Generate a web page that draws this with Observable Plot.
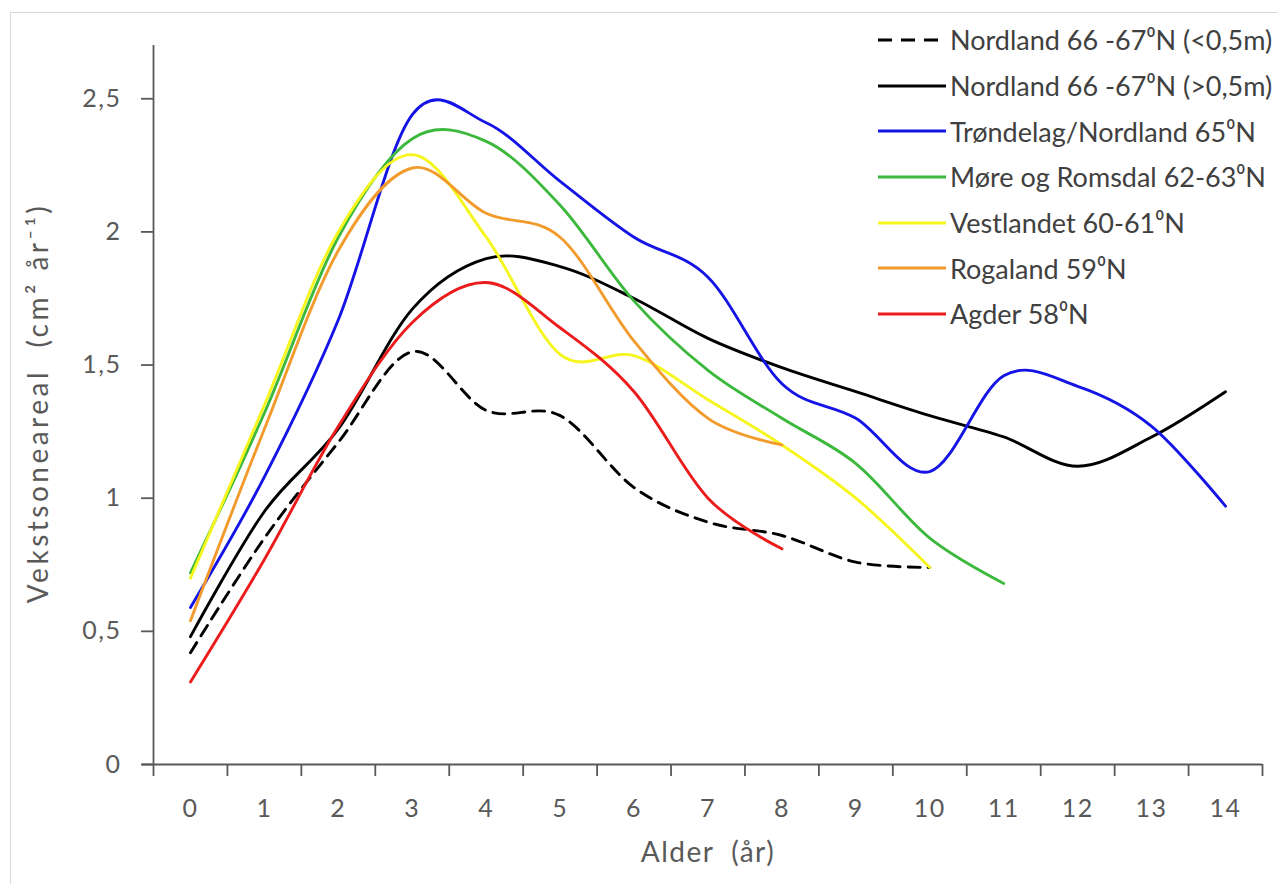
<!DOCTYPE html>
<html>
<head>
<meta charset="utf-8">
<script src="https://cdn.jsdelivr.net/npm/d3@7"></script>
<script src="https://cdn.jsdelivr.net/npm/@observablehq/plot@0.6"></script>
<style>
  html, body { margin: 0; padding: 0; background: #fff; }
  #wrap { position: relative; width: 1278px; height: 884px; overflow: hidden; font-family: Lato, "Open Sans", sans-serif; }
  #frame { position: absolute; left: 10px; top: 12px; width: 1300px; height: 900px; border: 1px solid #d9d9d9; box-sizing: border-box; }
  #chart { position: absolute; left: 0; top: 0; }
  #legend { position: absolute; left: 878px; top: 17px; }
  .row { display: flex; align-items: center; height: 45.7px; }
  .row svg { width: 68px; height: 10px; margin-right: 4px; flex: none; }
  .row span { font-size: 27px; color: #404040; white-space: nowrap; }
</style>
</head>
<body>
<div id="wrap">
  <div id="frame"></div>
  <div id="chart"></div>
  <div id="legend"></div>
</div>
<script>
// Age categories (x axis)
const ages = d3.range(0, 15);
const yTicks = [0, 0.5, 1, 1.5, 2, 2.5];

// Series values (Vekstsoneareal, cm² år⁻¹) per age
const nordlandLow  = [0.42, 0.85, 1.21, 1.55, 1.33, 1.31, 1.04, 0.91, 0.86, 0.76, 0.74];
const nordlandHigh = [0.48, 0.95, 1.26, 1.71, 1.90, 1.87, 1.75, 1.60, 1.49, 1.40, 1.31, 1.23, 1.12, 1.23, 1.40];
const trondelag    = [0.59, 1.08, 1.67, 2.44, 2.41, 2.19, 1.98, 1.83, 1.43, 1.30, 1.10, 1.46, 1.42, 1.27, 0.97];
const moreRomsdal  = [0.72, 1.32, 1.98, 2.35, 2.34, 2.10, 1.74, 1.48, 1.30, 1.13, 0.85, 0.68];
const vestlandet   = [0.70, 1.35, 2.00, 2.29, 1.98, 1.54, 1.535, 1.37, 1.20, 1.00, 0.74];
const rogaland     = [0.54, 1.26, 1.93, 2.24, 2.07, 1.98, 1.59, 1.30, 1.20];
const agder        = [0.31, 0.77, 1.27, 1.66, 1.81, 1.64, 1.40, 1.00, 0.81];

const seriesNames = [
  "Nordland 66 -67⁰N (<0,5m)",
  "Nordland 66 -67⁰N (>0,5m)",
  "Trøndelag/Nordland 65⁰N",
  "Møre og Romsdal 62-63⁰N",
  "Vestlandet 60-61⁰N",
  "Rogaland 59⁰N",
  "Agder 58⁰N"
];
const seriesValues = [nordlandLow, nordlandHigh, trondelag, moreRomsdal, vestlandet, rogaland, agder];
const seriesColors = ["#000000", "#000000", "#1414e6", "#3cb93c", "#f6f61e", "#f29b2c", "#ec1c1c"];
const seriesDash   = ["12,8", null, null, null, null, null, null];

const xTitle = "Alder\u00a0 (år)";
const yTitle = "Vekstsoneareal\u00a0 (cm² år⁻¹)";

const data = seriesValues.flatMap((vals, i) =>
  vals.map((v, j) => ({series: seriesNames[i], age: ages[j], value: v, idx: i})));

const axisColor = "#595959";
const boundaries = d3.range(-0.5, 15, 1);

const lineMarks = seriesNames.map((name, i) =>
  Plot.line(data.filter(d => d.idx === i), {
    x: "age", y: "value", stroke: seriesColors[i], strokeWidth: 2.9,
    strokeDasharray: seriesDash[i] || undefined, curve: "cardinal"
  }));

const chart = Plot.plot({
  width: 1278,
  height: 884,
  marginLeft: 153,
  marginRight: 16,
  marginTop: 45,
  marginBottom: 120,
  x: {domain: [-0.5, 14.5]},
  y: {domain: [0, 2.7]},
  style: {fontFamily: "Lato, sans-serif", fontSize: "25px", color: axisColor, background: "transparent", letterSpacing: "1.5px"},
  marks: [
    Plot.ruleX([-0.5], {y1: 0, y2: 2.7, stroke: axisColor, strokeWidth: 1.8}),
    Plot.ruleY([0], {x1: -0.65, x2: 14.5, stroke: axisColor, strokeWidth: 1.8}),
    Plot.axisY({ticks: yTicks, tickSize: 12, tickPadding: 20, tickFormat: d => String(d).replace(".", ","),
      stroke: axisColor, strokeWidth: 1.8, fill: axisColor, label: null}),
    Plot.axisX({ticks: boundaries, tickSize: 12, tickFormat: () => "", stroke: axisColor, strokeWidth: 1.8, label: null}),
    Plot.axisX({ticks: ages, tickSize: 0, tickPadding: 35, tickFormat: d => String(d), fill: axisColor, label: null}),
    Plot.text([xTitle], {frameAnchor: "bottom", dy: 97, fill: axisColor, fontSize: 28, textAnchor: "middle"}),
    Plot.text([yTitle], {frameAnchor: "left", dx: -114, dy: -2, rotate: -90, fill: axisColor, fontSize: 28, textAnchor: "middle", lineAnchor: "middle"}),
    ...lineMarks
  ]
});
// wider tracking on the rotated y title, as in the reference
d3.select(chart).selectAll("text").filter(function() { return this.textContent === yTitle; })
  .style("letter-spacing", "3.5px");
document.getElementById("chart").appendChild(chart);

// Legend
const legend = document.getElementById("legend");
seriesNames.forEach((name, i) => {
  const row = document.createElement("div");
  row.className = "row";
  const dash = seriesDash[i] ? ` stroke-dasharray="14,9"` : "";
  row.innerHTML = `<svg viewBox="0 0 68 10"><line x1="0" y1="5" x2="68" y2="5" stroke="${seriesColors[i]}" stroke-width="3"${dash}/></svg><span>${name}</span>`;
  legend.appendChild(row);
});
</script>
</body>
</html>
